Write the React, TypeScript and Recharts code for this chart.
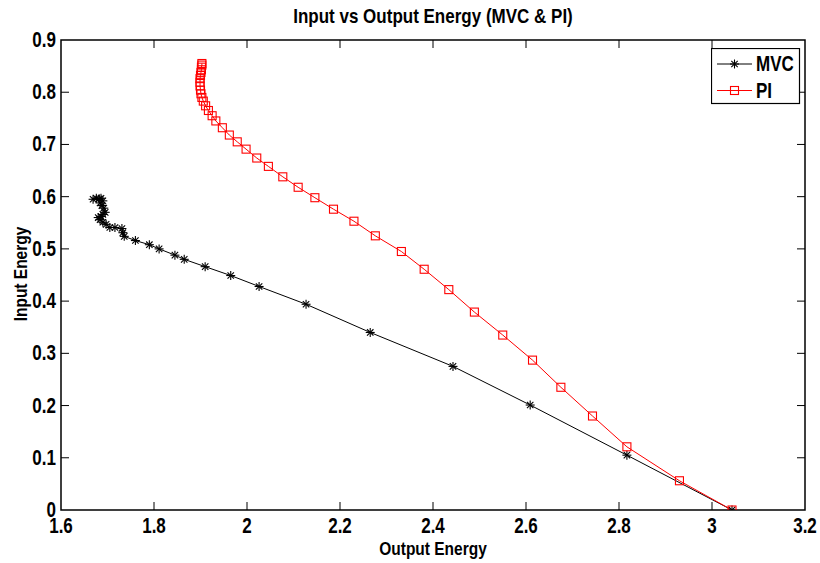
import React from 'react';
import { LineChart, Line, XAxis, YAxis, ReferenceArea } from 'recharts';

const xTicks = [1.6, 1.8, 2, 2.2, 2.4, 2.6, 2.8, 3, 3.2];
const yTicks = [0, 0.1, 0.2, 0.3, 0.4, 0.5, 0.6, 0.7, 0.8, 0.9];

const mvcX = [1.669, 1.676, 1.682, 1.686, 1.690, 1.684, 1.688, 1.692, 1.695, 1.690, 1.686, 1.680, 1.684, 1.690, 1.697, 1.705, 1.716, 1.731, 1.733, 1.736, 1.760, 1.790, 1.811, 1.845, 1.865, 1.910, 1.965, 2.026, 2.127, 2.265, 2.443, 2.609, 2.817, 3.043];
const mvcY = [0.595, 0.597, 0.596, 0.597, 0.592, 0.588, 0.583, 0.578, 0.570, 0.566, 0.562, 0.560, 0.556, 0.551, 0.547, 0.541, 0.541, 0.539, 0.531, 0.524, 0.516, 0.508, 0.500, 0.488, 0.480, 0.466, 0.449, 0.428, 0.394, 0.340, 0.275, 0.201, 0.105, 0.0];

const piX = [1.903, 1.903, 1.902, 1.902, 1.901, 1.900, 1.899, 1.899, 1.899, 1.900, 1.901, 1.903, 1.906, 1.911, 1.917, 1.925, 1.933, 1.947, 1.962, 1.979, 1.998, 2.021, 2.046, 2.077, 2.110, 2.146, 2.186, 2.230, 2.276, 2.332, 2.381, 2.434, 2.489, 2.550, 2.614, 2.675, 2.743, 2.817, 2.930, 3.043];
const piY = [0.855, 0.852, 0.848, 0.843, 0.838, 0.832, 0.826, 0.819, 0.812, 0.804, 0.797, 0.790, 0.783, 0.774, 0.765, 0.755, 0.745, 0.732, 0.718, 0.705, 0.691, 0.674, 0.658, 0.638, 0.618, 0.598, 0.576, 0.553, 0.525, 0.495, 0.461, 0.422, 0.379, 0.335, 0.287, 0.235, 0.180, 0.121, 0.056, 0.0];

const mvcData = mvcX.map((x, i) => ({ x, y: mvcY[i] }));
const piData = piX.map((x, i) => ({ x, y: piY[i] }));

const W = 820;
const H = 563;
const PL = 61;
const PR = 805;
const PT = 40;
const PB = 510;
const FONT = '"Liberation Sans", Arial, Helvetica, sans-serif';
const TICK = 8;
const SY = 1.25;

const fmt = (v: number) => String(Math.round(v * 10) / 10);

const XTick = (props: any) => {
  const { x, payload } = props;
  const v = payload.value;
  const showLine = v > 1.6 && v < 3.2;
  return (
    <g>
      {showLine && <line x1={x} x2={x} y1={PB} y2={PB - TICK} stroke="#000" strokeWidth={1} />}
      {showLine && <line x1={x} x2={x} y1={PT} y2={PT + TICK} stroke="#000" strokeWidth={1} />}
      <text transform={`translate(${x},${PB + 23}) scale(1,${SY})`} x={0} y={0} textAnchor="middle" fontFamily={FONT} fontWeight="bold" fontSize={17} fill="#000">{fmt(v)}</text>
    </g>
  );
};

const YTick = (props: any) => {
  const { y, payload } = props;
  const v = payload.value;
  const showLine = v > 0 && v < 0.9;
  return (
    <g>
      {showLine && <line x1={PL} x2={PL + TICK} y1={y} y2={y} stroke="#000" strokeWidth={1} />}
      {showLine && <line x1={PR} x2={PR - TICK} y1={y} y2={y} stroke="#000" strokeWidth={1} />}
      <text transform={`translate(${PL - 5},${y + 7}) scale(1,${SY})`} x={0} y={0} textAnchor="end" fontFamily={FONT} fontWeight="bold" fontSize={17} fill="#000">{fmt(v)}</text>
    </g>
  );
};

const Star = (props: any) => {
  const { cx, cy } = props;
  if (cx == null || cy == null) return null;
  const r = 4.5;
  const d = 3.2;
  return (
    <g stroke="#000" strokeWidth={1.1}>
      <line x1={cx - r} x2={cx + r} y1={cy} y2={cy} />
      <line x1={cx} x2={cx} y1={cy - r} y2={cy + r} />
      <line x1={cx - d} x2={cx + d} y1={cy - d} y2={cy + d} />
      <line x1={cx - d} x2={cx + d} y1={cy + d} y2={cy - d} />
    </g>
  );
};

const Sq = (props: any) => {
  const { cx, cy } = props;
  if (cx == null || cy == null) return null;
  return <rect x={cx - 4} y={cy - 4} width={8} height={8} fill="none" stroke="#ff0000" strokeWidth={1.1} />;
};

const LegendBox = () => (
  <svg width={90} height={57} style={{ display: 'block' }}>
    <rect x={0.5} y={0.5} width={88} height={55} fill="#fff" stroke="#000" strokeWidth={1.2} />
    <line x1={6} x2={41} y1={16} y2={16} stroke="#000" strokeWidth={1} />
    <Star cx={23.5} cy={16} />
    <text transform={`translate(45,23) scale(1,${SY})`} fontFamily={FONT} fontWeight="bold" fontSize={17} fill="#000">MVC</text>
    <line x1={6} x2={41} y1={42.5} y2={42.5} stroke="#ff0000" strokeWidth={1} />
    <Sq cx={23.5} cy={42.5} />
    <text transform={`translate(45,49.5) scale(1,${SY})`} fontFamily={FONT} fontWeight="bold" fontSize={17} fill="#000">PI</text>
  </svg>
);

export default function App() {
  return (
    <div style={{ position: 'absolute', left: 0, top: 0, width: W, height: H, background: '#fff' }}>
      <div style={{ position: 'absolute', left: 133, top: 6, width: 600, textAlign: 'center', fontFamily: FONT, fontWeight: 'bold', fontSize: 17, color: '#000', lineHeight: '22px', transform: 'scaleY(1.2)' }}>
        Input vs Output Energy (MVC &amp; PI)
      </div>
      <LineChart width={W} height={H} margin={{ top: PT, right: W - PR, bottom: 0, left: 0 }}>
        <XAxis
          type="number"
          dataKey="x"
          domain={[1.6, 3.2]}
          ticks={xTicks}
          interval={0}
          allowDataOverflow
          height={H - PB}
          axisLine={false}
          tickLine={false}
          tick={<XTick />}
          label={{
            content: () => (
              <text transform={`translate(${(PL + PR) / 2},555) scale(1,1.2)`} textAnchor="middle" fontFamily={FONT} fontWeight="bold" fontSize={15.5} fill="#000">Output Energy</text>
            ),
          }}
        />
        <YAxis
          type="number"
          dataKey="y"
          domain={[0, 0.9]}
          ticks={yTicks}
          interval={0}
          allowDataOverflow
          width={PL}
          axisLine={false}
          tickLine={false}
          tick={<YTick />}
          label={{
            content: () => (
              <text transform="translate(27,274) rotate(-90) scale(1,1.2)" textAnchor="middle" fontFamily={FONT} fontWeight="bold" fontSize={15.5} fill="#000">Input Energy</text>
            ),
          }}
        />
        <ReferenceArea x1={1.6} x2={3.2} y1={0} y2={0.9} fill="none" stroke="#000" strokeWidth={1.5} ifOverflow="visible" />
        <Line data={mvcData} dataKey="y" name="MVC" stroke="#000" strokeWidth={1} dot={<Star />} activeDot={false} isAnimationActive={false} />
        <Line data={piData} dataKey="y" name="PI" stroke="#ff0000" strokeWidth={1} dot={<Sq />} activeDot={false} isAnimationActive={false} />
      </LineChart>
      <div style={{ position: 'absolute', left: 711, top: 48 }}>
        <LegendBox />
      </div>
    </div>
  );
}
